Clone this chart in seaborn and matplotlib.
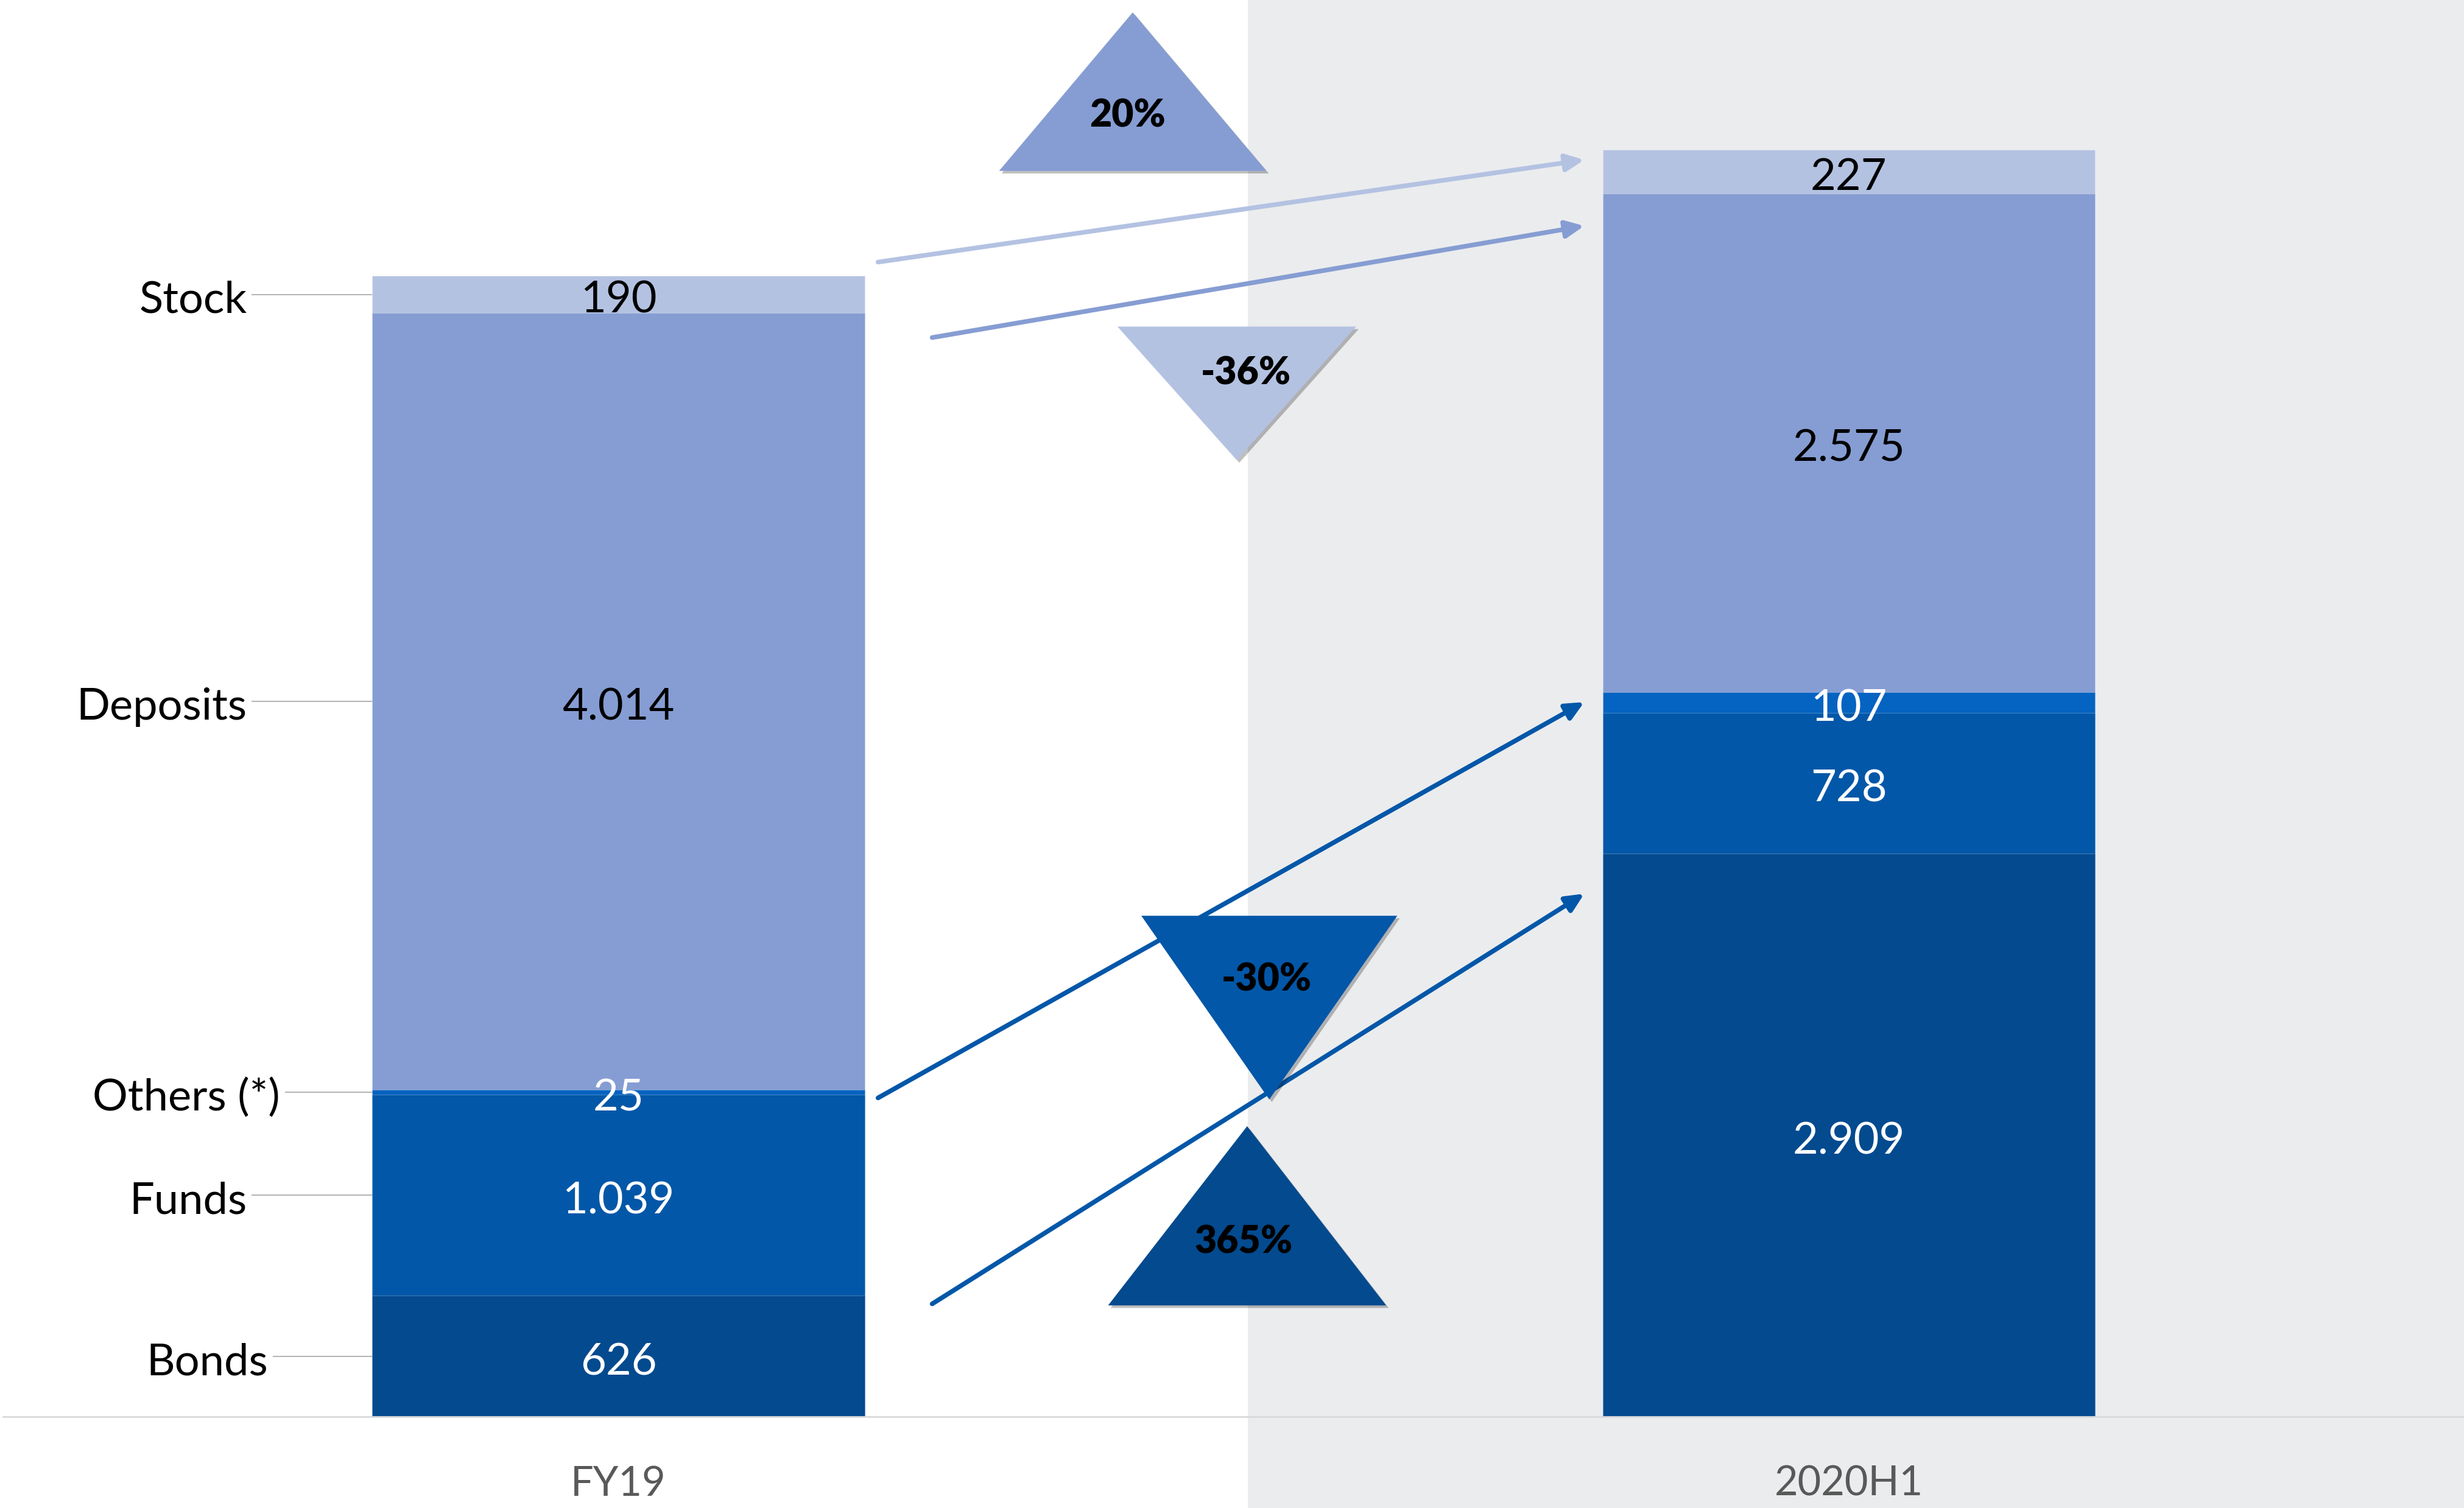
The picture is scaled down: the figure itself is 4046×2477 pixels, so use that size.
import matplotlib
matplotlib.use("Agg")
import matplotlib.pyplot as plt
import matplotlib.patheffects as pe
import matplotlib.transforms as mtransforms
from matplotlib.patches import Polygon, Rectangle
import numpy as np
import pandas as pd
import seaborn as sns

# ---------------- data ----------------
periods = ["FY19", "2020H1"]
segments = ["Bonds", "Funds", "Others (*)", "Deposits", "Stock"]   # bottom -> top
bonds = [626, 2909]
funds = [1039, 728]
others = [25, 107]
deposits = [4014, 2575]
stock = [190, 227]
change_segments = ["Stock", "Deposits", "Funds", "Bonds"]
change_pct = [20, -36, -30, 365]

# ---------------- styles ----------------
seg_colors = ["#034A8F", "#0357A8", "#0563C1", "#869DD3", "#B4C2E2"]
val_text_colors = ["white", "white", "white", "black", "black"]
label_right_x = [-0.285, -0.302, -0.275, -0.302, -0.302]
tri_colors = {"Stock": "#869DD3", "Deposits": "#B4C2E2",
              "Funds": "#0357A8", "Bonds": "#034A8F"}
arrow_colors = {"Stock": "#B4C2E2", "Deposits": "#869DD3",
                "Others (*)": "#0357A8", "Bonds": "#0357A8"}

sns.set_theme(style="white")
plt.rcParams["font.family"] = ["Lato", "DejaVu Sans"]

values = np.array([bonds, funds, others, deposits, stock], dtype=float)
cum = np.cumsum(values, axis=0)
bottoms = cum - values

fig = plt.figure(figsize=(40.46, 24.77), dpi=100)
fig.patch.set_facecolor("white")
bg = Rectangle((0.5064, 0), 1 - 0.5064, 1, transform=fig.transFigure,
               facecolor="#EBECEE", edgecolor="none", zorder=-10)
fig.patches.append(bg)
ax = fig.add_axes([0.0013, 0.0604, 0.9987, 0.9396])
ax.set_facecolor("none")
ax.set_zorder(1)

# stacked bars: draw cumulative totals from the top segment down
for i in range(len(segments) - 1, -1, -1):
    df = pd.DataFrame({"period": periods, "value": cum[i]})
    sns.barplot(data=df, x="period", y="value", color=seg_colors[i], saturation=1,
                width=0.4, errorbar=None, ax=ax, linewidth=0.8,
                edgecolor=(1, 1, 1, 0.25), zorder=2)

ax.set_xlim(-0.5, 1.5)
ax.set_ylim(0, 7320)
ax.set_xlabel("")
ax.set_ylabel("")
ax.set_yticks([])
for s in ["top", "left", "right"]:
    ax.spines[s].set_visible(False)
ax.spines["bottom"].set_color("#D9D9D9")
ax.spines["bottom"].set_linewidth(2)
ax.tick_params(axis="x", length=0, pad=57, labelsize=48, labelcolor="#595959")

def fmt(v):
    return f"{int(v):,}".replace(",", ".")

txt_tr = mtransforms.offset_copy(ax.transData, fig=fig, x=0, y=-7, units="points")
pct_tr = mtransforms.offset_copy(ax.transData, fig=fig, x=0, y=-5, units="points")

# value labels
for i, seg in enumerate(segments):
    for j in range(len(periods)):
        ymid = bottoms[i, j] + values[i, j] / 2
        ax.text(j, ymid, fmt(values[i, j]), ha="center", va="center",
                fontsize=52, color=val_text_colors[i], zorder=4, transform=txt_tr)

# category labels with leader lines (left of FY19 bar)
bar_left = -0.2
for i, seg in enumerate(segments):
    ymid = bottoms[i, 0] + values[i, 0] / 2
    ax.text(label_right_x[i], ymid, seg, ha="right", va="center", fontsize=52,
            color="black", zorder=4, transform=txt_tr)
    ax.plot([label_right_x[i] + 0.004, bar_left], [ymid, ymid], color="#A6A6A6",
            lw=1.2, zorder=3, solid_capstyle="butt")

# arrows between bars (offsets relative to the segment tops)
arrow_spec = [  # segment, x0, off0, x1, off1
    ("Stock", 0.211, 72, 0.785, -52),
    ("Deposits", 0.255, -128, 0.785, -166),
    ("Others (*)", 0.211, -42, 0.785, -51),
    ("Bonds", 0.255, -42, 0.785, -206),
]
for seg, x0, o0, x1, o1 in arrow_spec:
    k = segments.index(seg)
    y0 = cum[k, 0] + o0
    y1 = cum[k, 1] + o1
    ax.annotate("", xy=(x1, y1), xytext=(x0, y0),
                arrowprops=dict(arrowstyle="-|>,head_length=0.9,head_width=0.42",
                                mutation_scale=20, lw=5.5,
                                color=arrow_colors[seg], shrinkA=0, shrinkB=0),
                zorder=3)

# change triangles
tri_spec = [  # cx, base_y, tip_y, half_w, text_x, text_y
    (0.418, 6437, 7256, 0.1086, 0.414, 6745),
    (0.5026, 5633, 4943, 0.097, 0.510, 5414),
    (0.529, 2589, 1640, 0.104, 0.527, 2281),
    (0.511, 576, 1502, 0.113, 0.508, 925),
]
for seg, pct, (cx, by, ty, hw, tx, tyy) in zip(change_segments, change_pct, tri_spec):
    poly = Polygon([(cx - hw, by), (cx + hw, by), (cx, ty)], closed=True,
                   facecolor=tri_colors[seg], edgecolor="none", zorder=5)
    poly.set_path_effects([pe.SimplePatchShadow(offset=(3, -3), shadow_rgbFace="black",
                                                alpha=0.25), pe.Normal()])
    ax.add_patch(poly)
    ax.text(tx, tyy, f"{pct}%", ha="center", va="center", fontsize=45,
            fontweight="heavy", color="black", zorder=6, transform=pct_tr)

fig.savefig("out.png", dpi=100, facecolor=fig.get_facecolor())
